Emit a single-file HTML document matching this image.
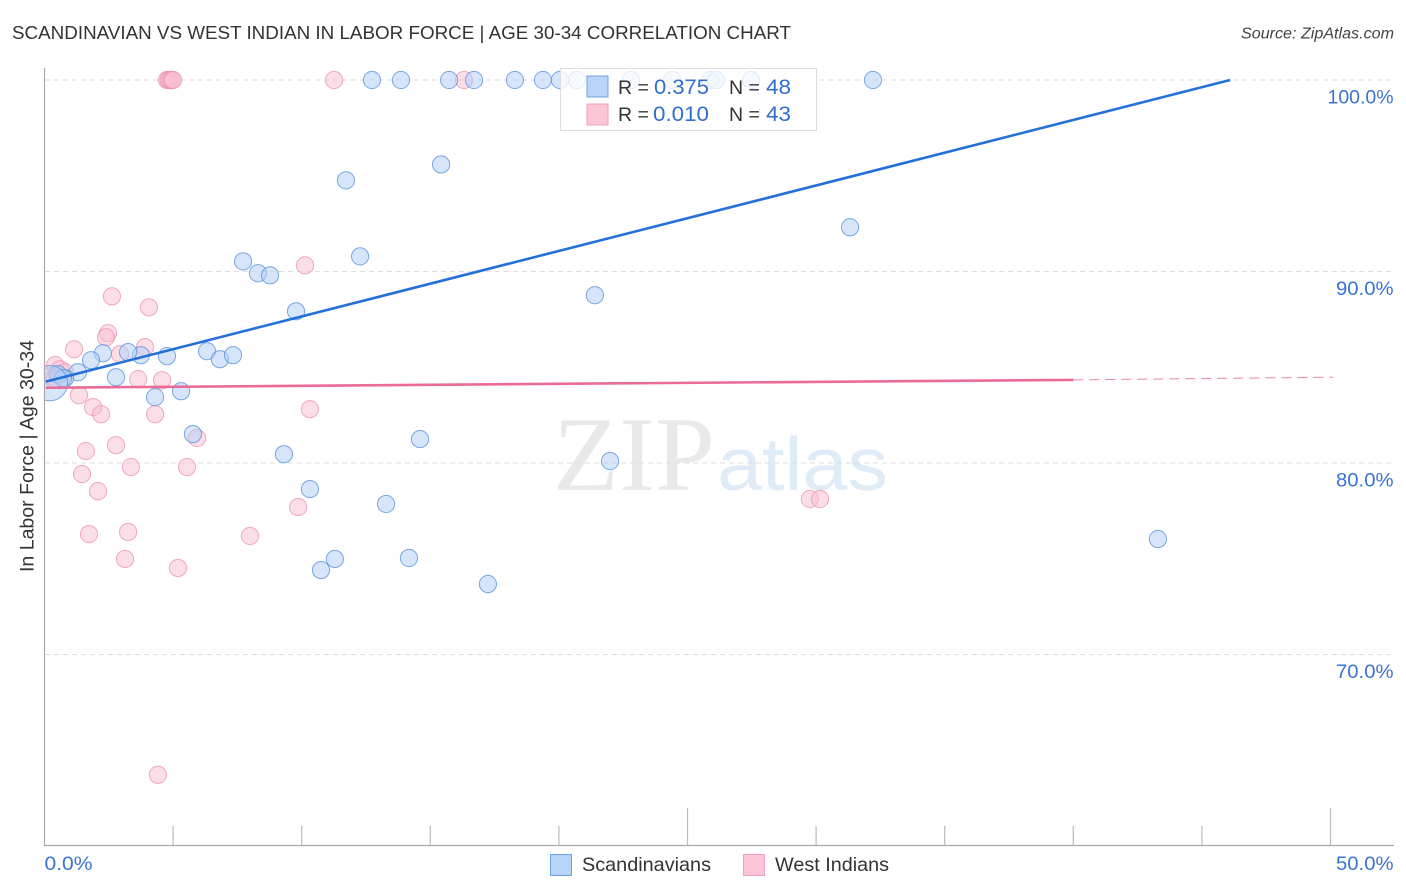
<!DOCTYPE html>
<html lang="en">
<head>
<meta charset="utf-8">
<title>Scandinavian vs West Indian in Labor Force | Age 30-34 Correlation Chart</title>
<style>
html,body{margin:0;padding:0;background:#fff;}
body{width:1406px;height:892px;overflow:hidden;font-family:"Liberation Sans",sans-serif;}
svg{display:block;}
text{font-family:"Liberation Sans",sans-serif;}
</style>
</head>
<body>
<svg id="chart" xmlns="http://www.w3.org/2000/svg" width="1406" height="892" viewBox="0 0 1406 892">
  <defs>
    <clipPath id="plot-clip"><rect x="45" y="60" width="1349" height="785"/></clipPath>
  </defs>
  <text x="12" y="39" font-size="18.5" fill="#333" textLength="779" lengthAdjust="spacingAndGlyphs">SCANDINAVIAN VS WEST INDIAN IN LABOR FORCE | AGE 30-34 CORRELATION CHART</text>
  <text x="1241" y="38.5" font-size="15.5" font-style="italic" fill="#444" textLength="153" lengthAdjust="spacingAndGlyphs">Source: ZipAtlas.com</text>

  <g>
    <text x="553" y="490" font-size="106" fill="#e9e9e9" textLength="162" lengthAdjust="spacingAndGlyphs" style="font-family:'Liberation Serif',serif">ZIP</text>
    <text x="717" y="490" font-size="75" fill="#e0ebf8" textLength="171" lengthAdjust="spacingAndGlyphs">atlas</text>
  </g>

  <g id="grid"></g>
  <g id="axes"></g>
  <g id="points" clip-path="url(#plot-clip)"></g>
  <g id="trends"></g>
  <g id="labels"></g>

  <text transform="translate(33.5,456) rotate(-90)" font-size="19" fill="#333" text-anchor="middle" textLength="232" lengthAdjust="spacingAndGlyphs">In Labor Force | Age 30-34</text>

  <g>
    <rect x="560.5" y="68.5" width="256" height="62" fill="#fff" fill-opacity="0.78" stroke="#dcdcdc"/>
    <rect x="587" y="76" width="21" height="21" fill="#b8d4f7" stroke="#6ea3e3" stroke-width="1"/>
    <rect x="587" y="104" width="21" height="21" fill="#fcc6d7" stroke="#f0a0ba" stroke-width="1"/>
    <text x="618" y="94" font-size="19.5" fill="#333">R =</text>
    <text x="654" y="94" font-size="21" fill="#2f6fd0" textLength="55" lengthAdjust="spacingAndGlyphs">0.375</text>
    <text x="729" y="94" font-size="19.5" fill="#333">N =</text>
    <text x="766" y="94" font-size="21" fill="#2f6fd0" textLength="25" lengthAdjust="spacingAndGlyphs">48</text>
    <text x="618" y="121" font-size="19.5" fill="#333">R =</text>
    <text x="653" y="121" font-size="21" fill="#2f6fd0" textLength="56" lengthAdjust="spacingAndGlyphs">0.010</text>
    <text x="729" y="121" font-size="19.5" fill="#333">N =</text>
    <text x="766" y="121" font-size="21" fill="#2f6fd0" textLength="25" lengthAdjust="spacingAndGlyphs">43</text>
  </g>

  <g>
    <g>
      <rect x="550.5" y="854.5" width="21" height="21" fill="#b8d4f7" stroke="#6ea3e3"/>
      <text x="582" y="871" font-size="19.5" fill="#333" textLength="129" lengthAdjust="spacingAndGlyphs">Scandinavians</text>
    </g>
    <g>
      <rect x="743.5" y="854.5" width="21" height="21" fill="#fcc6d7" stroke="#f0a0ba"/>
      <text x="775" y="871" font-size="19.5" fill="#333" textLength="114" lengthAdjust="spacingAndGlyphs">West Indians</text>
    </g>
  </g>
</svg>
<script>
const yTickValues = [100, 90, 80, 70];
const yTickLabels = ["100.0%", "90.0%", "80.0%", "70.0%"];
const xTickValues = [0, 5, 10, 15, 20, 25, 30, 35, 40, 45, 50];
const xMajorTicks = [25, 50];
const xEdgeLabels = ["0.0%", "50.0%"];

const scandinavianX = [12.73,13.86,15.73,16.70,18.29,19.38,20.04,20.70,22.80,24.40,25.88,26.11,27.47,32.21,15.42,11.72,31.32,7.72,8.30,8.77,12.27,9.78,21.40,6.32,6.82,7.33,4.76,3.75,3.25,2.27,1.81,1.30,2.78,0.80,4.30,5.31,5.77,14.60,9.31,21.99,10.32,13.28,43.29,14.17,11.29,10.75,17.24,0.52,0.72,0.21];
const scandinavianY = [100,100,100,100,100,100,100,100,100,100,100,100,100,100,95.59,94.76,92.31,90.53,89.91,89.80,90.79,87.92,88.76,85.84,85.42,85.63,85.58,85.63,85.79,85.73,85.37,84.74,84.48,84.43,83.44,83.75,81.51,81.25,80.46,80.10,78.64,77.86,76.03,75.04,74.99,74.41,73.68,84.64,84.43,84.17];
const scandinavianWeight = [1,1,1,1,1,1,1,1,1,1,1,1,1,1,1,1,1,1,1,1,1,1,1,1,1,1,1,1,1,1,1,1,1,1,1,1,1,1,1,1,1,1,1,1,1,1,1,1,1,4.2];

const westIndianX = [4.76,4.82,4.88,4.94,5.00,11.26,16.31,10.13,2.62,4.06,2.47,2.39,1.15,3.91,2.94,3.64,4.57,1.34,1.89,2.20,4.30,10.32,5.93,2.78,1.61,1.46,3.36,5.54,2.08,9.86,7.99,1.73,3.25,3.13,5.19,4.41,29.76,30.15,0.41,0.60,0.80,0.21,0.37];
const westIndianY = [100,100,100,100,100,100,100,90.32,88.70,88.13,86.78,86.57,85.94,86.05,85.68,84.38,84.32,83.54,82.92,82.55,82.55,82.81,81.30,80.93,80.62,79.42,79.79,79.79,78.53,77.70,76.19,76.29,76.40,74.99,74.52,63.72,78.12,78.12,85.11,84.90,84.74,84.53,84.38];

const blueTrendX = [0.05, 46.1];
const blueTrendY = [84.25, 100];
const pinkTrendX = [0.05, 40];
const pinkTrendY = [83.93, 84.34];
const pinkDashX = [40, 50.1];
const pinkDashY = [84.34, 84.48];

const xScale = v => 44.5 + v * 25.72;
const yScale = v => 80 + (100 - v) * 19.15;
const labelWidth = s => s.startsWith("100") ? 66 : s.length === 5 ? 57.5 : 48;
const NS = "http://www.w3.org/2000/svg";
function make(tag, attrs, parent) {
  const el = document.createElementNS(NS, tag);
  for (const k in attrs) el.setAttribute(k, attrs[k]);
  parent.appendChild(el);
  return el;
}
const gridG = document.getElementById("grid");
const axesG = document.getElementById("axes");
const pointsG = document.getElementById("points");
const trendsG = document.getElementById("trends");
const labelsG = document.getElementById("labels");

yTickValues.forEach((v, i) => {
  const y = yScale(v);
  const line = make("line", {x1: 45, x2: 1394, y1: y, y2: y, stroke: "#dedede", "stroke-width": 1, "stroke-dasharray": "5 4"}, gridG);
  
  
  const t = make("text", {x: 1393.5, y: y + 23.5, "font-size": 19.5, fill: "#3a72d2", "text-anchor": "end", textLength: labelWidth(yTickLabels[i]), lengthAdjust: "spacingAndGlyphs"}, labelsG);
  t.textContent = yTickLabels[i];
  
  
});

const yAxis = make("line", {x1: 44.5, x2: 44.5, y1: 68, y2: 846, stroke: "#aaa", "stroke-width": 1.2}, axesG);


const xAxis = make("line", {x1: 44, x2: 1394, y1: 845.5, y2: 845.5, stroke: "#aaa", "stroke-width": 1.2}, axesG);



xTickValues.forEach(v => {
  if (v === 0) return;
  const x = xScale(v);
  const top = xMajorTicks.includes(v) ? 808 : 826;
  const tick = make("line", {x1: x, x2: x, y1: top, y2: 845, stroke: "#bbb", "stroke-width": 1.2}, axesG);
  
  
});

const x0Label = make("text", {x: 44.5, y: 870, "font-size": 19.5, fill: "#3a72d2", textLength: labelWidth(xEdgeLabels[0]), lengthAdjust: "spacingAndGlyphs"}, labelsG);
x0Label.textContent = xEdgeLabels[0];


const x1Label = make("text", {x: 1393.5, y: 870, "font-size": 19.5, fill: "#3a72d2", "text-anchor": "end", textLength: labelWidth(xEdgeLabels[1]), lengthAdjust: "spacingAndGlyphs"}, labelsG);
x1Label.textContent = xEdgeLabels[1];



westIndianX.forEach((v, i) => {
  const c = make("circle", {cx: xScale(v), cy: yScale(westIndianY[i]), r: 8.6, fill: "#f9bdd0", "fill-opacity": 0.5, stroke: "#ec8fae", "stroke-opacity": 0.75, "stroke-width": 1}, pointsG);
  
  
});
scandinavianX.forEach((v, i) => {
  const c = make("circle", {cx: xScale(v), cy: yScale(scandinavianY[i]), r: 8.6 * Math.sqrt(scandinavianWeight[i]), fill: "#b4d0f5", "fill-opacity": 0.55, stroke: "#5b93dd", "stroke-opacity": 0.8, "stroke-width": 1}, pointsG);
  
  
});

const blueLine = make("line", {x1: xScale(blueTrendX[0]), y1: yScale(blueTrendY[0]), x2: xScale(blueTrendX[1]), y2: yScale(blueTrendY[1]), stroke: "#2470d8", "stroke-width": 2.6}, trendsG);


const pinkLine = make("line", {x1: xScale(pinkTrendX[0]), y1: yScale(pinkTrendY[0]), x2: xScale(pinkTrendX[1]), y2: yScale(pinkTrendY[1]), stroke: "#ea6a98", "stroke-width": 2.6}, trendsG);


const pinkDash = make("line", {x1: xScale(pinkDashX[0]), y1: yScale(pinkDashY[0]), x2: xScale(pinkDashX[1]), y2: yScale(pinkDashY[1]), stroke: "#e58aa9", "stroke-width": 1, "stroke-dasharray": "10 6"}, trendsG);


</script>
</body>
</html>
